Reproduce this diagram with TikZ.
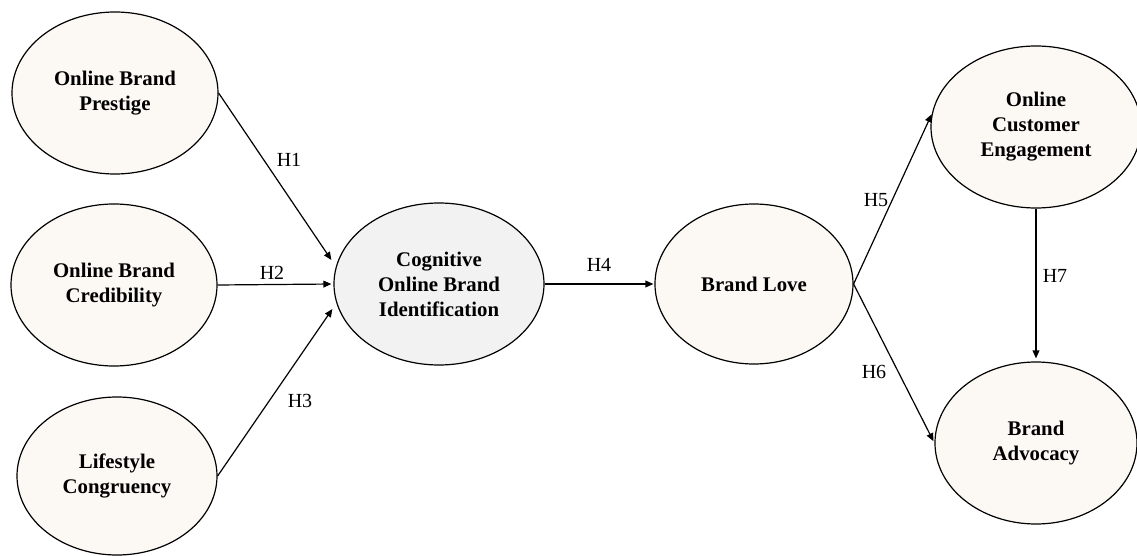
\documentclass[tikz,border=0pt]{standalone}
\usepackage{fontspec}
\setmainfont{Liberation Serif}
\usetikzlibrary{arrows.meta,shapes.geometric}
\definecolor{constfill}{RGB}{252,248,244}
\definecolor{cogfill}{RGB}{242,242,242}

\begin{document}
\begin{tikzpicture}[x=0.5pt,y=-0.5pt,
  construct/.style={ellipse,draw=black,line width=0.6pt,fill=constfill,
                    inner sep=0pt,minimum width=103pt,minimum height=81pt,
                    align=center,font=\fontsize{10.4}{12.5}\selectfont\bfseries},
  central/.style={construct,fill=cogfill},
  hyp/.style={inner sep=0pt,font=\fontsize{10}{12}\selectfont},
  arrow/.style={-{Triangle[length=4pt,width=3.4pt]},line width=0.6pt}]
\useasboundingbox (0,0) rectangle (1137,556);
\node[construct](prest) at (115,93)   {Online Brand\\Prestige};
\node[construct](cred)  at (114,285)  {Online Brand\\Credibility};
\node[construct,minimum width=100pt,minimum height=79pt](life) at (117,476) {Lifestyle\\Congruency};
\node[central,minimum width=105pt](cog) at (439,284) {Cognitive\\Online Brand\\Identification};
\node[construct,minimum width=99pt,minimum height=80pt](love) at (754,284) {Brand Love};
\node[construct,minimum width=105pt](eng) at (1036,127) {Online\\Customer\\Engagement};
\node[construct,minimum width=101pt](adv) at (1036,443) {Brand\\Advocacy};
% hypotheses
\node[hyp](h1) at (289,160)  {H1};
\node[hyp](h2) at (272,273)  {H2};
\node[hyp](h3) at (300,401)  {H3};
\node[hyp](h4) at (599,265)  {H4};
\node[hyp](h5) at (876,200)  {H5};
\node[hyp](h6) at (874,372)  {H6};
\node[hyp](h7) at (1055,276) {H7};
\draw[arrow](prest.east)--([shift={(-2,-24)}]cog.west);
\draw[arrow,shorten >=1pt](cred.east)--(cog.west);
\draw[arrow](life.east)--([shift={(-1,25)}]cog.west);
\draw[arrow,shorten >=0.5pt](cog.east)--(love.west);
\draw[arrow](love.east)--(eng.173);
\draw[arrow,shorten >=1pt](love.east)--(adv.west);
\draw[arrow,shorten >=1.5pt](eng.south)--(adv.north);
\end{tikzpicture}
\end{document}
